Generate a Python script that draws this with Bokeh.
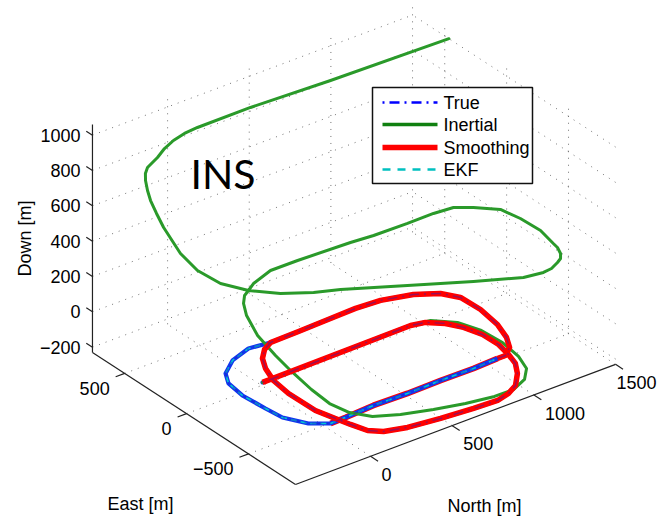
import numpy as np
from bokeh.plotting import figure
from bokeh.models import Range1d
from bokeh.core.properties import value
from bokeh.embed import file_html
from bokeh.resources import INLINE

# ---------------- data (metres) ----------------
# True trajectory
true_north = [-63, 852, 928, 999, 1046, 1077, 1080, 1059, 1032, 980, 901,
              826, 742, 601, 413, 231, 114, 58, 28, 5, -25, -28,
              -9, 32, 80, 142, 207, 381, 583, 740, 885, 1048, 1159,
              1213, 1219, 1195, 1153, 1105, 1041, 992, 839, 640, 434,
              230, 50, -44, -130, -195, -207, -219, -201, -153, -48, 85, 207]
true_east = [-90, -79, -99, -166, -251, -363, -489, -597, -688, -773, -862,
             -904, -927, -919, -900, -873, -834, -779, -681, -589, -467, -254,
             -107, 11, 99, 164, 201, 205, 213, 218, 207, 157, 85,
             -6, -160, -328, -457, -545, -596, -596, -604, -601, -605,
             -599, -611, -614, -549, -425, -304, -133, 3, 90, 172, 219, 201]
true_down = [-150, -150, -150, -150, -150, -150, -150, -150, -150, -150, -150,
             -150, -150, -150, -150, -150, -150, -150, -150, -150, -150, -150,
             -150, -150, -150, -150, -150, -150, -150, -150, -150, -150, -150,
             -150, -150, -150, -150, -150, -150, -150, -150, -150, -150,
             -150, -150, -150, -150, -150, -150, -150, -150, -150, -150, -150, -150]

# Smoothing estimate
smooth_north = [-63, 852, 928, 999, 1046, 1077, 1080, 1059, 1032, 980, 901,
                826, 742, 601, 413, 231, 114, 58, 28, 5, -25, -28,
                -9, 32, 80, 142, 207, 381, 583, 740, 885, 1048, 1159,
                1213, 1219, 1195, 1153, 1105, 1041, 992]
smooth_east = [-90, -79, -99, -166, -251, -363, -489, -597, -688, -773, -862,
               -904, -927, -919, -900, -873, -834, -779, -681, -589, -467, -254,
               -107, 11, 99, 164, 201, 205, 213, 218, 207, 157, 85,
               -6, -160, -328, -457, -545, -596, -596]
smooth_down = [-150, -150, -150, -150, -150, -150, -150, -150, -150, -150, -150,
               -150, -150, -150, -150, -150, -150, -150, -150, -150, -150, -150,
               -150, -150, -150, -150, -150, -150, -150, -150, -150, -150, -150,
               -150, -150, -150, -150, -150, -150, -150]

# EKF estimate (indistinguishable from the true path at this scale)
ekf_north = list(true_north)
ekf_east = list(true_east)
ekf_down = list(true_down)

# Inertial (INS only) solution, drifting upwards
ins_north = [-63, 851, 959, 1052, 1097, 1107, 1086, 1045, 972, 869,
             754, 599, 437, 276, 150, 79, 48, 53, 73, 90,
             119, 169, 208, 244, 273, 313, 415, 527, 766, 866,
             1027, 1156, 1248, 1310, 1387, 1400, 1396, 1363,
             1352, 1326, 1295, 1258, 1198, 1141,
             1030, 805, 514, 220, 92, -48, -165, -258, -312, -329, -313,
             -299, -287, -276, -261, -251, -239, -193, -144, -93, -40, 20,
             319, 791, 1500]
ins_east = [-90, -79, -99, -194, -328, -485, -642, -761, -841, -888,
            -886, -856, -811, -757, -697, -605, -485, -332, -145, 7,
            190, 345, 421, 460, 467, 479, 476, 405, 293, 238,
            177, 137, 97, 17, -99, -243, -411, -558,
            -606, -665, -706, -730, -761, -771,
            -756, -649, -500, -347, -298, -215, -111, -8, 107, 222, 379,
            455, 519, 558, 594, 608, 607, 587, 595, 590, 571, 545,
            511, 487, 466]
ins_down = [-150, -150, -150, -150, -150, -150, -150, -150, -150, -150,
            -150, -150, -148, -145, -140, -135, -128, -120, -110, -95,
            -75, -50, -30, -15, 0, 20, 60, 110, 180, 210,
            250, 280, 300, 315, 330, 340, 350, 355,
            358, 360, 361, 362, 363, 365,
            368, 375, 385, 395, 400, 405, 415, 440, 480, 530, 600,
            640, 680, 715, 750, 780, 810, 860, 890, 920, 950, 975,
            1000, 1000, 1000]

# axes
north_ticks = [0, 500, 1000, 1500]
east_ticks = [-500, 0, 500]
down_ticks = [-200, 0, 200, 400, 600, 800, 1000]
north_labels = ["0", "500", "1000", "1500"]
east_labels = ["\u2212500", "0", "500"]
down_labels = ["\u2212200", "0", "200", "400", "600", "800", "1000"]
N_LIM = (-460, 1500)
E_LIM = (-880, 760)
D_LIM = (-230, 1060)

legend_names = ["True", "Inertial", "Smoothing", "EKF"]

# ---------------- view: orthographic projection ----------------
ORIGIN = (295.0, 484.0)          # screen position of (Nmin, Emin, Dmin)
VN = (0.1633, -0.0613)           # screen px per metre North
VE = (-0.1238, -0.0805)          # screen px per metre East
VD = (0.0, -0.17667)             # screen px per metre Down-axis value


def proj(n, e, d):
    n = np.asarray(n, float) - N_LIM[0]
    e = np.asarray(e, float) - E_LIM[0]
    d = np.asarray(d, float) - D_LIM[0]
    x = ORIGIN[0] + VN[0] * n + VE[0] * e + VD[0] * d
    y = ORIGIN[1] + VN[1] * n + VE[1] * e + VD[1] * d
    return x, y


W, H = 658, 516
p = figure(width=W, height=H, x_range=Range1d(0, W), y_range=Range1d(H, 0),
           output_backend="svg", toolbar_location=None,
           x_axis_type=None, y_axis_type=None, min_border=0,
           outline_line_color=None, background_fill_color="white",
           border_fill_color="white")

FONT = value("Liberation Sans")
FS = 18
FSIZE = "%dpx" % FS

# ---------------- grid (dotted) ----------------
n0, n1 = N_LIM
e0, e1 = E_LIM
d0, d1 = D_LIM
segs = []
for n in north_ticks:
    segs.append(((n, e0, d0), (n, e1, d0)))
    segs.append(((n, e1, d0), (n, e1, d1)))
for e in east_ticks:
    segs.append(((n0, e, d0), (n1, e, d0)))
    segs.append(((n1, e, d0), (n1, e, d1)))
for d in down_ticks:
    segs.append(((n0, e1, d), (n1, e1, d)))
    segs.append(((n1, e0, d), (n1, e1, d)))
gx, gy = [], []
for a, b in segs:
    x, y = proj([a[0], b[0]], [a[1], b[1]], [a[2], b[2]])
    gx.append(list(x))
    gy.append(list(y))
p.multi_line(gx, gy, line_color="#444444", line_alpha=0.75, line_width=1,
             line_dash="1 6")

# ---------------- axes lines & ticks ----------------
axes = [((n0, e1, d0), (n0, e1, d1)),
        ((n0, e0, d0), (n0, e1, d0)),
        ((n0, e0, d0), (n1, e0, d0))]
for d in down_ticks:
    axes.append(((n0, e1, d), (n0, e1 + 50, d)))
for e in east_ticks:
    axes.append(((n0, e, d0), (n0 - 55, e, d0)))
for n in north_ticks:
    axes.append(((n, e0, d0), (n, e0 - 60, d0)))
ax_x, ax_y = [], []
for a, b in axes:
    x, y = proj([a[0], b[0]], [a[1], b[1]], [a[2], b[2]])
    ax_x.append(list(x))
    ax_y.append(list(y))
p.multi_line(ax_x, ax_y, line_color="#222222", line_width=1.2)

# tick labels
dx, dy = proj([n0] * len(down_ticks), [e1] * len(down_ticks), down_ticks)
p.text(x=list(dx - 12), y=list(dy), text=down_labels, text_font=FONT,
       text_font_size=FSIZE, text_align="right", text_baseline="middle",
       text_color="black")
ex, ey = proj([n0] * len(east_ticks), east_ticks, [d0] * len(east_ticks))
p.text(x=list(ex - 15), y=list(ey + 15), text=east_labels, text_font=FONT,
       text_font_size=FSIZE, text_align="right", text_baseline="middle",
       text_color="black")
nx, ny = proj(north_ticks, [e0] * len(north_ticks), [d0] * len(north_ticks))
# keep the last label inside the page
lab_w = np.array([0.556 * FS * len(s) for s in north_labels])
nlx = np.minimum(nx + 11, W - 2 - lab_w)
p.text(x=list(nlx), y=list(ny + 18), text=north_labels, text_font=FONT,
       text_font_size=FSIZE, text_align="left", text_baseline="middle",
       text_color="black")

# axis titles
p.text(x=[24], y=[238], text=["Down [m]"], angle=np.pi / 2, text_font=FONT,
       text_font_size=FSIZE, text_align="center", text_baseline="middle",
       text_color="black")
p.text(x=[140], y=[503], text=["East [m]"], text_font=FONT,
       text_font_size=FSIZE, text_align="center", text_baseline="middle",
       text_color="black")
p.text(x=[484], y=[505], text=["North [m]"], text_font=FONT,
       text_font_size=FSIZE, text_align="center", text_baseline="middle",
       text_color="black")

# ---------------- trajectories ----------------
BLUE, GREEN, RED, CYAN = "#1236ee", "#2a9a2a", "#ff0000", "#00c8d0"
tx, ty = proj(true_north, true_east, true_down)
# smoothing estimate showing as a thin red fringe along the middle leg
p.line(tx[39:46], ty[39:46], line_color=RED, line_width=6, line_join="round")
p.line(tx, ty, line_color=BLUE, line_width=4.2, line_join="round", line_cap="round")
kx, ky = proj(ekf_north, ekf_east, ekf_down)
p.line(kx, ky, line_color=CYAN, line_width=1.6, line_dash="6 4", line_join="round")
ix, iy = proj(ins_north, ins_east, ins_down)
p.line(ix, iy, line_color=GREEN, line_width=3, line_join="round", line_cap="round")
sx, sy = proj(smooth_north, smooth_east, smooth_down)
p.line(sx, sy, line_color=RED, line_width=5.5, line_join="round", line_cap="butt")
p.line(tx, ty, line_color="#2020c0", line_alpha=0.45, line_width=1.4,
       line_dash="2 5 10 5", line_join="round")

# ---------------- legend ----------------
LX0, LX1, LY0, LY1 = 372, 532, 87, 183
p.quad(left=[LX0], right=[LX1], top=[LY0], bottom=[LY1], fill_color="white",
       line_color="#111111", line_width=1.5)
rows = [102, 124, 147, 169]
styles = [dict(line_color="#0000ff", line_width=2.5, line_dash="2 5 10 5"),
          dict(line_color="#108010", line_width=3.5),
          dict(line_color=RED, line_width=5.5),
          dict(line_color="#00c0c0", line_width=2.5, line_dash="8 7")]
for yy, st in zip(rows, styles):
    p.line([382, 437], [yy, yy], **st)
p.text(x=[443] * 4, y=rows, text=legend_names, text_font=FONT,
       text_font_size=FSIZE, text_align="left", text_baseline="middle",
       text_color="black")

# annotation
p.text(x=[190], y=[173], text=["INS"], text_font=value("Lato"),
       text_font_size="41px", text_align="left", text_baseline="alphabetic",
       text_color="black")

open("out.html", "w").write(file_html(p, INLINE))
